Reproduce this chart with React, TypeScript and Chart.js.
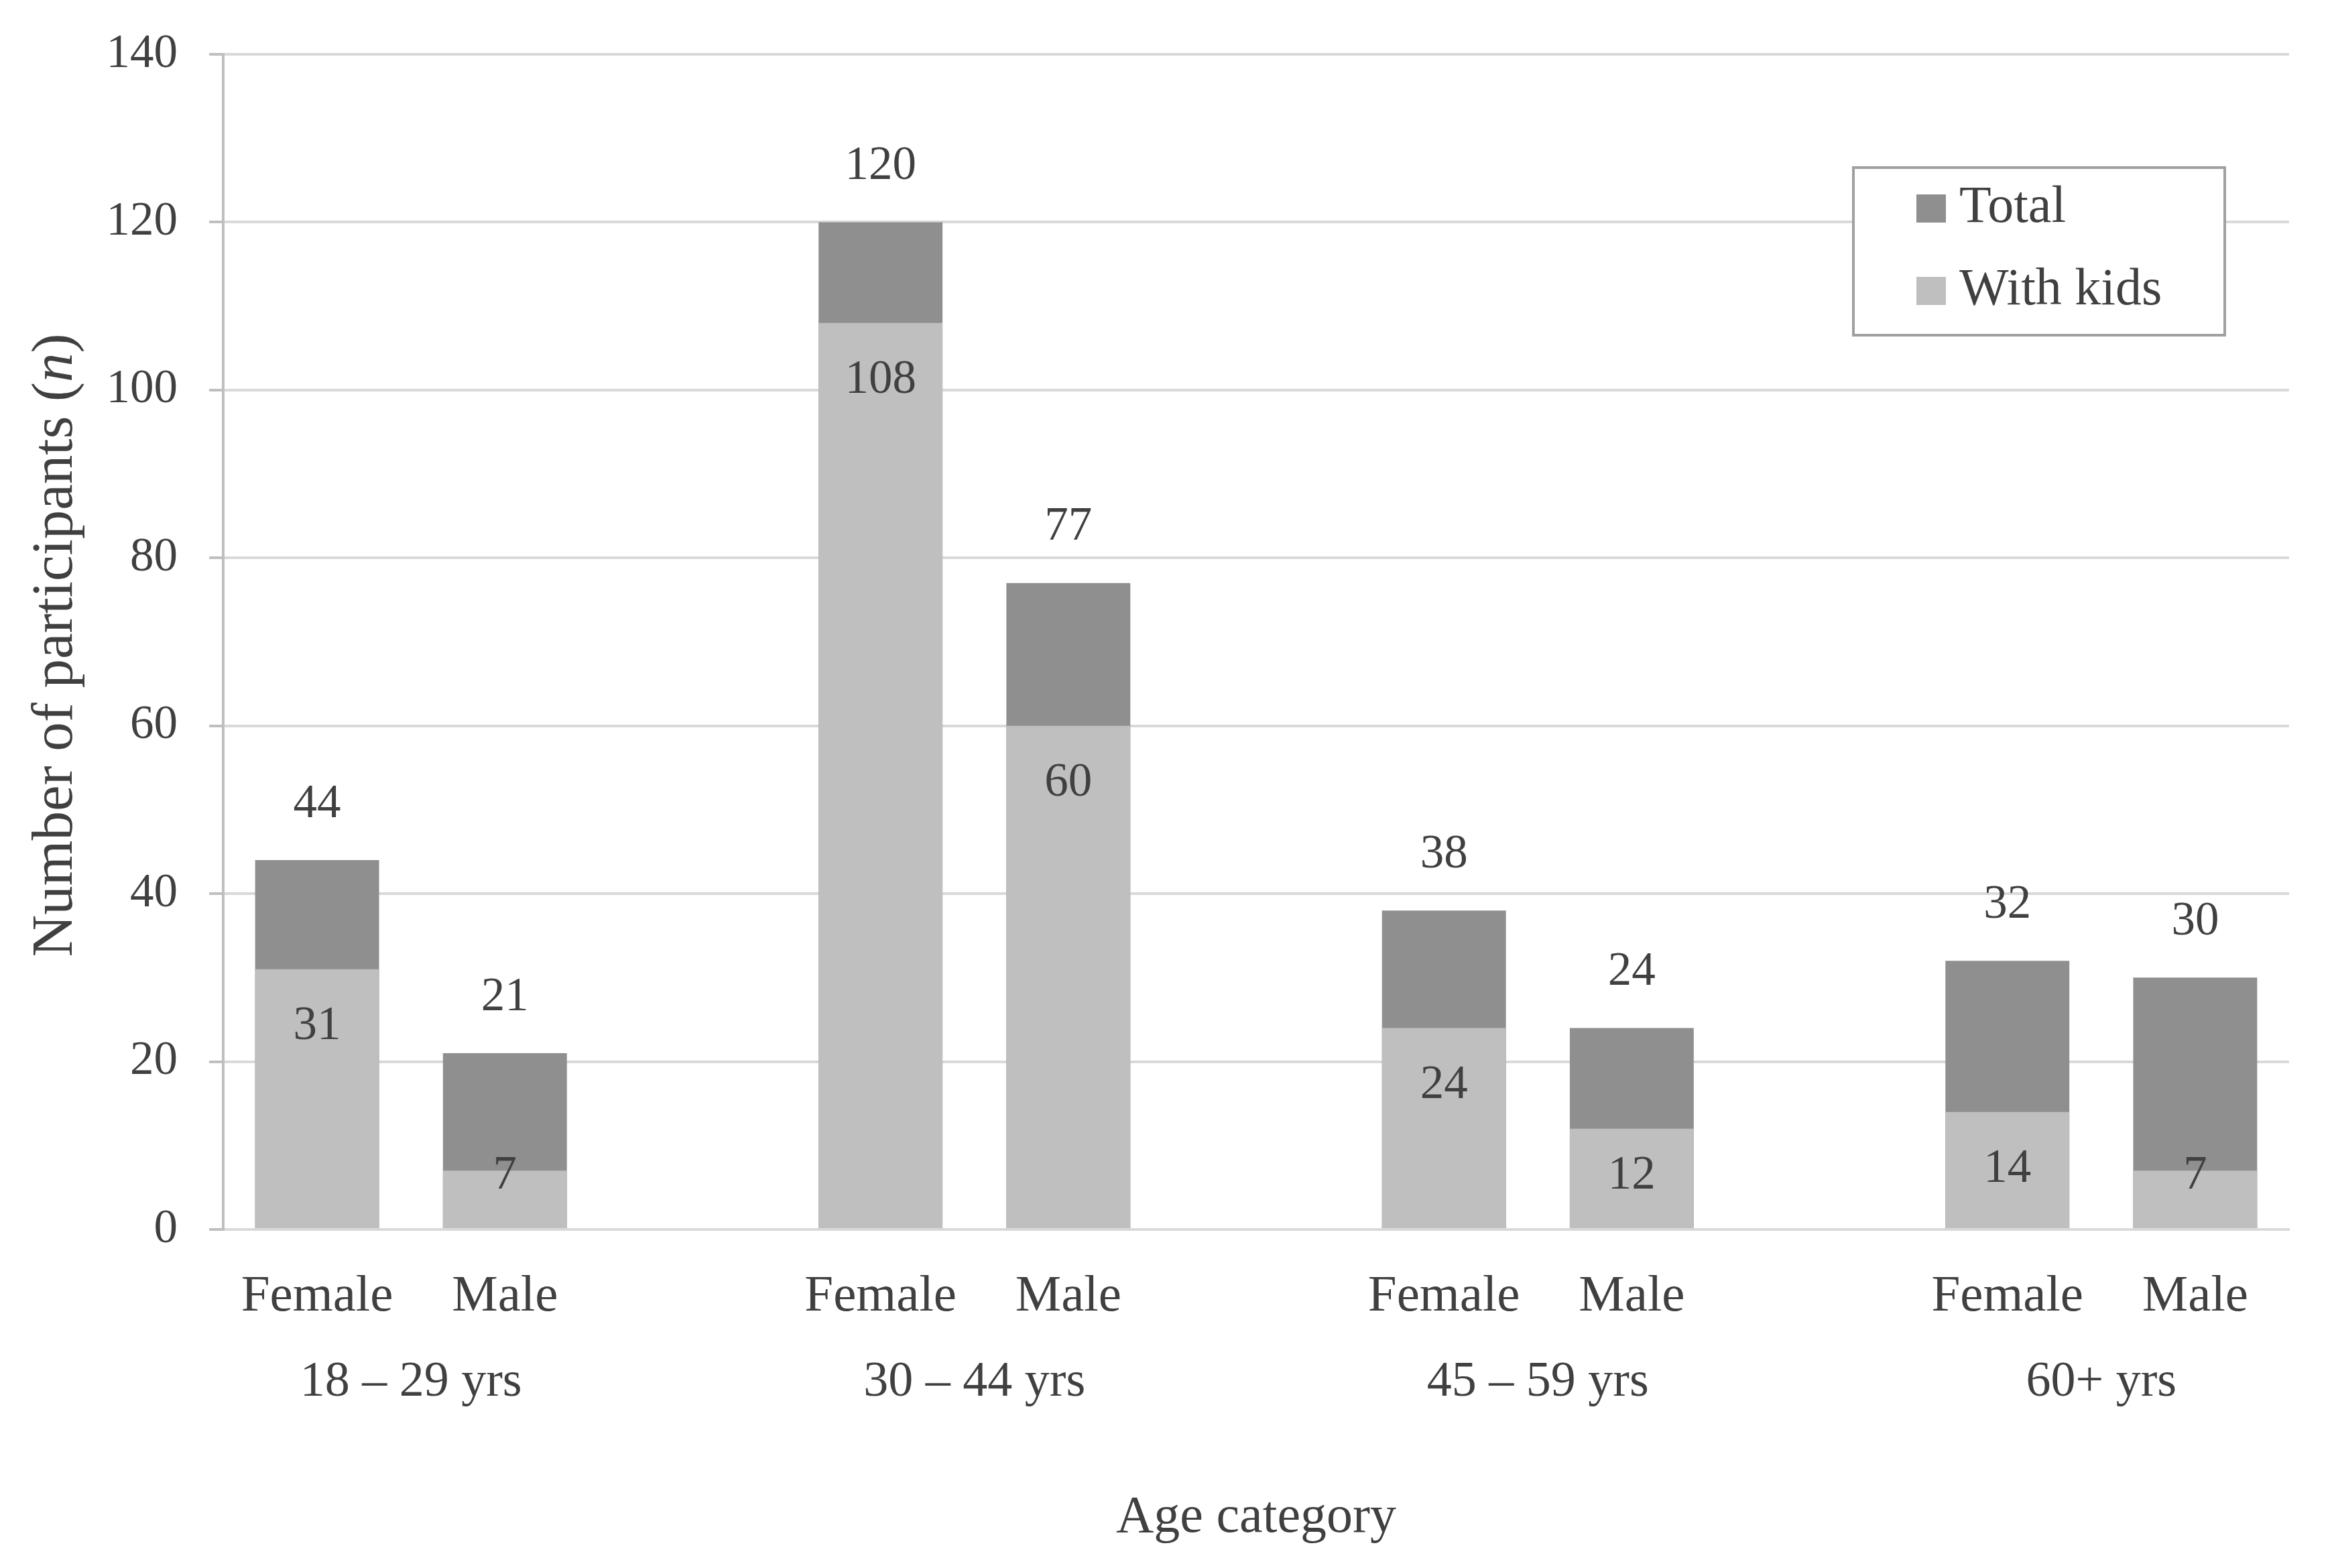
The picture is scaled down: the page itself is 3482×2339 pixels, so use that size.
import { useEffect, useRef } from 'react';
import { Chart, registerables } from 'chart.js';

Chart.register(...registerables);

const ageGroups = ['18 – 29 yrs', '30 – 44 yrs', '45 – 59 yrs', '60+ yrs'];
const sexes = ['Female', 'Male'];
// one value per age group x sex, ordered by ageGroups then sexes
const totalCounts = [44, 21, 120, 77, 38, 24, 32, 30];
const withKidsCounts = [31, 7, 108, 60, 24, 12, 14, 7];
const yMax = 140;
const yStep = 20;

const FONT = '"Liberation Serif", "Times New Roman", serif';
const TEXT = '#404040';
const DARK = '#8f8f8f';
const LIGHT = '#bfbfbf';

// bars sit in slots, with one empty slot between age groups
const slotLabels: string[] = [];
const slotOf: number[] = [];
ageGroups.forEach((_, g) => {
  sexes.forEach((s) => {
    slotOf.push(slotLabels.length);
    slotLabels.push(s);
  });
  if (g < ageGroups.length - 1) slotLabels.push('');
});
const spread = (vals: number[]) => {
  const out: (number | null)[] = slotLabels.map(() => null);
  vals.forEach((v, i) => (out[slotOf[i]] = v));
  return out;
};
const groupCenters = ageGroups.map((_, g) => (slotOf[g * 2] + slotOf[g * 2 + 1]) / 2);

const valueLabels = {
  id: 'valueLabels',
  afterDatasetsDraw(chart: any) {
    const { ctx } = chart;
    ctx.save();
    ctx.font = `71px ${FONT}`;
    ctx.fillStyle = TEXT;
    ctx.textAlign = 'center';
    ctx.textBaseline = 'middle';
    chart.data.datasets.forEach((ds: any, i: number) => {
      const meta = chart.getDatasetMeta(i);
      meta.data.forEach((el: any, j: number) => {
        const v = ds.data[j];
        if (v == null) return;
        const { x, y, base } = el.getProps(['x', 'y', 'base'], true);
        const ty = ds.label === 'Total' ? y - 83 : Math.min(y + 86, base - 78);
        ctx.fillText(String(v), x, ty);
      });
    });
    ctx.restore();
  },
};

const boxLegend = {
  id: 'boxLegend',
  afterDraw(chart: any) {
    const { ctx, chartArea } = chart;
    const w = 554;
    const h = 250;
    const left = chartArea.right - 96 - w;
    const top = chartArea.top + 169;
    ctx.save();
    ctx.fillStyle = '#ffffff';
    ctx.fillRect(left, top, w, h);
    ctx.strokeStyle = '#a0a0a0';
    ctx.lineWidth = 4;
    ctx.strokeRect(left, top, w, h);
    ctx.font = `78px ${FONT}`;
    ctx.textBaseline = 'middle';
    ctx.textAlign = 'left';
    const items = [...chart.data.datasets].reverse();
    items.forEach((ds: any, k: number) => {
      const cy = top + 61 + k * 123;
      ctx.fillStyle = ds.backgroundColor;
      ctx.fillRect(left + 94, cy - 21, 44, 42);
      ctx.fillStyle = TEXT;
      ctx.fillText(ds.label, left + 158, cy);
    });
    ctx.restore();
  },
};

const yTitle = {
  id: 'yTitle',
  afterDraw(chart: any) {
    const { ctx, chartArea } = chart;
    const parts = [
      { t: 'Number of participants (', f: `87px ${FONT}` },
      { t: 'n', f: `italic 87px ${FONT}` },
      { t: ')', f: `87px ${FONT}` },
    ];
    ctx.save();
    let total = 0;
    parts.forEach((p) => {
      ctx.font = p.f;
      total += ctx.measureText(p.t).width;
    });
    ctx.translate(84, (chartArea.top + chartArea.bottom) / 2 + 5);
    ctx.rotate(-Math.PI / 2);
    ctx.fillStyle = TEXT;
    ctx.textBaseline = 'middle';
    ctx.textAlign = 'left';
    let x = -total / 2;
    parts.forEach((p) => {
      ctx.font = p.f;
      ctx.fillText(p.t, x, 0);
      x += ctx.measureText(p.t).width;
    });
    ctx.restore();
  },
};

export default function App() {
  const chartRef = useRef<HTMLCanvasElement | null>(null);

  useEffect(() => {
    document.body.style.margin = '0';
    const ctx = chartRef.current?.getContext('2d');
    if (!ctx) return;

    const chartInstance = new Chart(ctx, {
      type: 'bar',
      data: {
        labels: slotLabels,
        datasets: [
          {
            label: 'With kids',
            data: spread(withKidsCounts),
            backgroundColor: LIGHT,
            categoryPercentage: 1,
            barPercentage: 0.66,
          },
          {
            label: 'Total',
            data: spread(totalCounts),
            backgroundColor: DARK,
            categoryPercentage: 1,
            barPercentage: 0.66,
          },
        ],
      },
      options: {
        animation: false,
        responsive: true,
        maintainAspectRatio: false,
        devicePixelRatio: 1,
        events: [],
        layout: { padding: { left: 0, right: 67, top: 81, bottom: 0 } },
        scales: {
          x: {
            stacked: true,
            weight: 0,
            grid: { display: false, drawTicks: false, tickLength: 0 },
            border: { display: true, color: '#d9d9d9', width: 4 },
            ticks: {
              autoSkip: false,
              maxRotation: 0,
              padding: 55,
              color: TEXT,
              font: { family: FONT, size: 77 },
            },
            afterFit: (scale: any) => {
              scale.height = 150;
            },
          },
          x2: {
            type: 'linear',
            position: 'bottom',
            weight: 1,
            offset: false,
            min: -0.5,
            max: slotLabels.length - 0.5,
            grid: { display: false, drawTicks: false, tickLength: 0, offset: false },
            border: { display: false },
            afterBuildTicks: (scale: any) => {
              scale.ticks = groupCenters.map((value) => ({ value }));
            },
            ticks: {
              autoSkip: false,
              maxRotation: 0,
              padding: 34,
              color: TEXT,
              font: { family: FONT, size: 74 },
              callback: (value: any) => ageGroups[groupCenters.indexOf(Number(value))] ?? '',
            },
            title: {
              display: true,
              text: 'Age category',
              color: TEXT,
              font: { family: FONT, size: 78 },
              padding: { top: 0, bottom: 28 },
            },
            afterFit: (scale: any) => {
              scale.height = 355;
            },
          },
          y: {
            stacked: false,
            min: 0,
            max: yMax,
            ticks: {
              stepSize: yStep,
              padding: 47,
              color: TEXT,
              font: { family: FONT, size: 71 },
            },
            grid: { color: '#d9d9d9', lineWidth: 4, tickColor: '#bfbfbf', tickLength: 21 },
            border: { display: true, color: '#bfbfbf', width: 4 },
            afterFit: (scale: any) => {
              scale.width = 333;
              // only the half label height should overhang the plot, not the tick padding
              scale.paddingTop = 40;
              scale.paddingBottom = 40;
            },
          },
        },
        plugins: {
          legend: { display: false },
          tooltip: { enabled: false },
        },
      },
      plugins: [valueLabels, boxLegend, yTitle],
    });

    return () => {
      chartInstance.destroy();
    };
  }, []);

  return (
    <div style={{ position: 'relative', width: 3482, height: 2339, overflow: 'hidden', background: '#fff' }}>
      <canvas ref={chartRef} style={{ display: 'block' }}></canvas>
    </div>
  );
}
